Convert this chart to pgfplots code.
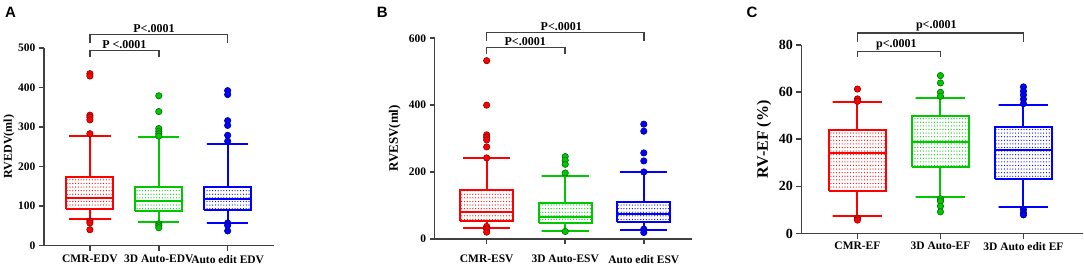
\documentclass[border=0pt]{standalone}
\usepackage{pgfplots}
\pgfplotsset{compat=1.18}
\usetikzlibrary{patterns}
\usepackage{fontspec}
\setmainfont{Liberation Serif}
\newfontfamily\sansfont{Liberation Sans}
\definecolor{gpred}{RGB}{255,0,0}
\definecolor{gpgreen}{RGB}{0,200,0}
\definecolor{gpblue}{RGB}{0,0,255}
\pgfdeclarepatternformonly{mydots}{\pgfqpoint{-0.8pt}{-0.8pt}}{\pgfqpoint{0.8pt}{0.8pt}}{\pgfqpoint{2.8pt}{3.6pt}}{\pgfpathcircle{\pgfqpoint{0pt}{0pt}}{0.62pt}\pgfusepath{fill}}
\tikzset{
  br/.style={line width=1.5pt, black!75},
  pv/.style={font=\fontsize{12}{13}\selectfont\bfseries, anchor=south, inner sep=1.5pt},
}
\pgfplotsset{
  gp/.style={
    scale only axis, clip=false, anchor=south west,
    axis x line*=bottom, axis y line*=left,
    axis line style={line width=1.6pt, black!75},
    tick style={line width=1.6pt, black!75},
    tick align=outside, major tick length=5pt,
    xtick={1,2,3}, ymin=0,
    /pgf/number format/assume math mode=true,
    ticklabel style={font=\fontsize{11.5}{13}\selectfont\bfseries},
    ylabel style={font=\fontsize{12}{13}\selectfont\bfseries, anchor=center},
  },
  ln/.style={draw=#1, line width=2pt, no marks, line join=miter},
  bxs/.style={draw=#1, line width=2pt, no marks, line join=miter, pattern=mydots, pattern color=#1},
  out/.style={only marks, mark=*, mark size=3.2pt, mark options={fill=#1, draw=#1!55!black, line width=0.6pt}},
}
\begin{document}
\begin{tikzpicture}
% Panel A
\begin{axis}[gp, at={(44pt,24.3pt)}, width=230pt, height=197.7pt,
  xmin=0.333, xmax=3.67, ymax=500, ytick={0,100,200,300,400,500},
  xticklabels={CMR-EDV, 3D Auto-EDV, Auto edit EDV},
  xticklabel style={yshift=-1pt},
  ylabel={RVEDV(ml)}, ylabel style={at={(axis description cs:-0.152,0.5)}}]
% CMR-EDV
\addplot[bxs=gpred] coordinates {(0.66,92.7) (1.34,92.7) (1.34,174.5) (0.66,174.5) (0.66,92.7)};
\addplot[ln=gpred] coordinates {(0.66,119.7) (1.34,119.7)};
\addplot[ln=gpred] coordinates {(1,174.5) (1,278) (0.7,278) (1.3,278)};
\addplot[ln=gpred] coordinates {(1,92.7) (1,66) (0.7,66) (1.3,66)};
\addplot[out=gpred] coordinates {(1,435) (1,429) (1,330) (1,325) (1,318) (1,283) (1,62) (1,57) (1,40)};
% 3D Auto-EDV
\addplot[bxs=gpgreen] coordinates {(1.66,87) (2.34,87) (2.34,148) (1.66,148) (1.66,87)};
\addplot[ln=gpgreen] coordinates {(1.66,112) (2.34,112)};
\addplot[ln=gpgreen] coordinates {(2,148) (2,275) (1.7,275) (2.3,275)};
\addplot[ln=gpgreen] coordinates {(2,87) (2,59) (1.7,59) (2.3,59)};
\addplot[out=gpgreen] coordinates {(2,379) (2,339) (2,296) (2,289) (2,283) (2,277) (2,55) (2,50) (2,45)};
% Auto edit EDV
\addplot[bxs=gpblue] coordinates {(2.66,91) (3.34,91) (3.34,147) (2.66,147) (2.66,91)};
\addplot[ln=gpblue] coordinates {(2.66,117) (3.34,117)};
\addplot[ln=gpblue] coordinates {(3,147) (3,256) (2.7,256) (3.3,256)};
\addplot[ln=gpblue] coordinates {(3,91) (3,58) (2.7,58) (3.3,58)};
\addplot[out=gpblue] coordinates {(3,392) (3,382) (3,316) (3,304) (3,279) (3,264) (3,57) (3,51) (3,37)};
\draw[br] (axis cs:1,476) -- (axis cs:1,493) -- (axis cs:2,493) -- (axis cs:2,476);
\node[pv] at (axis cs:1.5,493) {P <.0001};
\draw[br] (axis cs:1,513) -- (axis cs:1,534) -- (axis cs:3,534) -- (axis cs:3,513);
\node[pv] at (axis cs:1.93,534) {P<.0001};
\end{axis}
% Panel B
\begin{axis}[gp, at={(435pt,31pt)}, width=258pt, height=200.7pt,
  xmin=0.338, xmax=3.62, ymax=600, ytick={0,200,400,600},
  xticklabels={CMR-ESV, 3D Auto-ESV, Auto edit ESV},
  xticklabel style={yshift=-8pt},
  ylabel={RVESV(ml)}, ylabel style={font=\fontsize{13}{14}\selectfont\bfseries, at={(axis description cs:-0.155,0.5)}}]
% CMR-ESV
\addplot[bxs=gpred] coordinates {(0.66,54) (1.34,54) (1.34,145) (0.66,145) (0.66,54)};
\addplot[ln=gpred] coordinates {(0.66,80) (1.34,80)};
\addplot[ln=gpred] coordinates {(1,145) (1,242) (0.7,242) (1.3,242)};
\addplot[ln=gpred] coordinates {(1,54) (1,33) (0.7,33) (1.3,33)};
\addplot[out=gpred] coordinates {(1,533) (1,400) (1,311) (1,304) (1,296) (1,275) (1,242) (1,37) (1,29) (1,20)};
% 3D Auto-ESV
\addplot[bxs=gpgreen] coordinates {(1.66,46) (2.34,46) (2.34,108) (1.66,108) (1.66,46)};
\addplot[ln=gpgreen] coordinates {(1.66,65) (2.34,65)};
\addplot[ln=gpgreen] coordinates {(2,108) (2,189) (1.7,189) (2.3,189)};
\addplot[ln=gpgreen] coordinates {(2,46) (2,24) (1.7,24) (2.3,24)};
\addplot[out=gpgreen] coordinates {(2,246) (2,235) (2,223) (2,197) (2,22)};
% Auto edit ESV
\addplot[bxs=gpblue] coordinates {(2.66,50) (3.34,50) (3.34,111) (2.66,111) (2.66,50)};
\addplot[ln=gpblue] coordinates {(2.66,73) (3.34,73)};
\addplot[ln=gpblue] coordinates {(3,111) (3,200) (2.7,200) (3.3,200)};
\addplot[ln=gpblue] coordinates {(3,50) (3,27) (2.7,27) (3.3,27)};
\addplot[out=gpblue] coordinates {(3,343) (3,322) (3,257) (3,233) (3,200) (3,29) (3,19)};
\draw[br] (axis cs:1,552) -- (axis cs:1,572) -- (axis cs:2,572) -- (axis cs:2,552);
\node[pv] at (axis cs:1.49,572) {P<.0001};
\draw[br] (axis cs:1,593) -- (axis cs:1,618) -- (axis cs:3,618) -- (axis cs:3,593);
\node[pv] at (axis cs:1.95,618) {P<.0001};
\end{axis}
% Panel C
\begin{axis}[gp, at={(802pt,36.3pt)}, width=282pt, height=188.7pt,
  xmin=0.325, xmax=3.72, ymax=80, ytick={0,20,40,60,80},
  xticklabels={CMR-EF, 3D Auto-EF, 3D Auto edit EF},
  yticklabel style={font=\fontsize{14}{16}\selectfont\bfseries},
  ylabel={RV-EF (\%)}, ylabel style={font=\fontsize{16}{18}\selectfont\bfseries, at={(axis description cs:-0.133,0.5)}}]
% CMR-EF
\addplot[bxs=gpred] coordinates {(0.66,18.0) (1.34,18.0) (1.34,44.1) (0.66,44.1) (0.66,18.0)};
\addplot[ln=gpred] coordinates {(0.66,34.2) (1.34,34.2)};
\addplot[ln=gpred] coordinates {(1,44.1) (1,55.8) (0.7,55.8) (1.3,55.8)};
\addplot[ln=gpred] coordinates {(1,18.0) (1,7.3) (0.7,7.3) (1.3,7.3)};
\addplot[out=gpred] coordinates {(1,61.3) (1,57.1) (1,56.1) (1,6.6) (1,5.7)};
% 3D Auto-EF
\addplot[bxs=gpgreen] coordinates {(1.66,28.1) (2.34,28.1) (2.34,49.8) (1.66,49.8) (1.66,28.1)};
\addplot[ln=gpgreen] coordinates {(1.66,38.9) (2.34,38.9)};
\addplot[ln=gpgreen] coordinates {(2,49.8) (2,57.5) (1.7,57.5) (2.3,57.5)};
\addplot[ln=gpgreen] coordinates {(2,28.1) (2,15.3) (1.7,15.3) (2.3,15.3)};
\addplot[out=gpgreen] coordinates {(2,67.0) (2,63.9) (2,59.9) (2,58.2) (2,14.7) (2,13.7) (2,11.6) (2,9.2)};
% 3D Auto edit EF
\addplot[bxs=gpblue] coordinates {(2.66,23.2) (3.34,23.2) (3.34,45.2) (2.66,45.2) (2.66,23.2)};
\addplot[ln=gpblue] coordinates {(2.66,35.6) (3.34,35.6)};
\addplot[ln=gpblue] coordinates {(3,45.2) (3,54.6) (2.7,54.6) (3.3,54.6)};
\addplot[ln=gpblue] coordinates {(3,23.2) (3,11.2) (2.7,11.2) (3.3,11.2)};
\addplot[out=gpblue] coordinates {(3,62.2) (3,60.4) (3,58.8) (3,57.0) (3,55.1) (3,10.2) (3,8.8) (3,7.9)};
\draw[br] (axis cs:1,75.0) -- (axis cs:1,77.3) -- (axis cs:2,77.3) -- (axis cs:2,75.0);
\node[pv] at (axis cs:1.47,77.3) {p<.0001};
\draw[br] (axis cs:1,81.1) -- (axis cs:1,85.1) -- (axis cs:3,85.1) -- (axis cs:3,81.1);
\node[pv] at (axis cs:1.95,85.1) {p<.0001};
\end{axis}
\node[anchor=north west, inner sep=0, font=\sansfont\bfseries\fontsize{15}{15}\selectfont] at (5pt,263pt) {A};
\node[anchor=north west, inner sep=0, font=\sansfont\bfseries\fontsize{15}{15}\selectfont] at (377pt,263pt) {B};
\node[anchor=north west, inner sep=0, font=\sansfont\bfseries\fontsize{15}{15}\selectfont] at (747pt,263pt) {C};
\path (0pt,0pt) rectangle (1084pt,270pt);
\end{tikzpicture}
\end{document}
